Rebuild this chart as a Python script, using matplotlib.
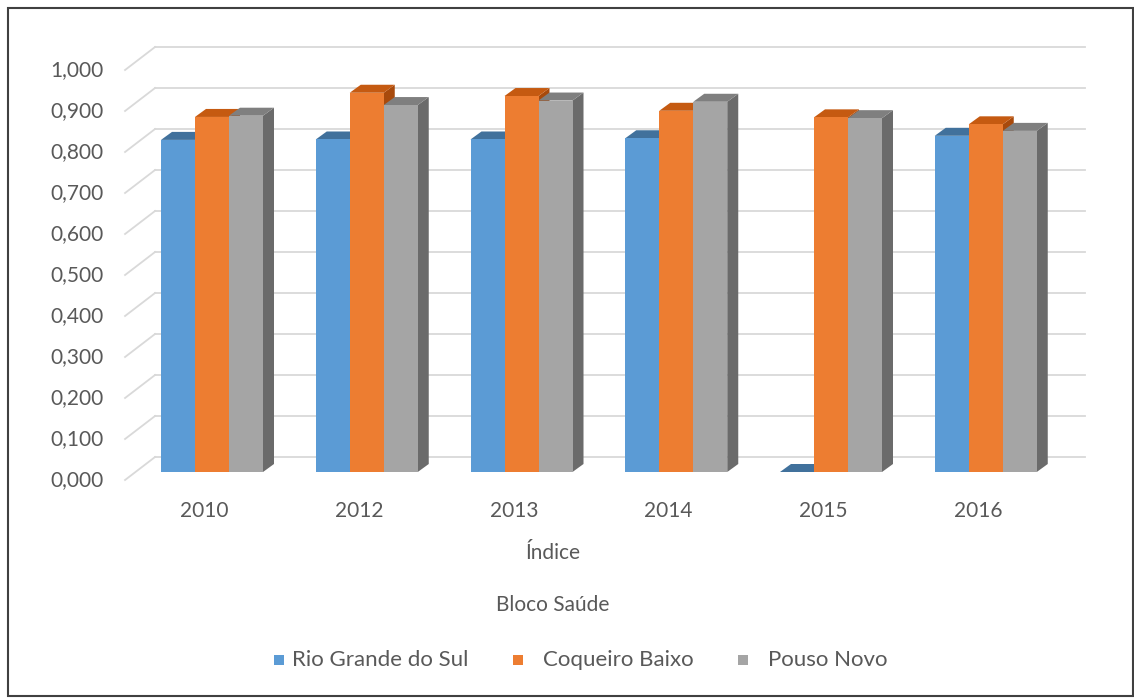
import numpy as np
import matplotlib.pyplot as plt
from matplotlib.patches import Polygon, Rectangle

# data
years = ['2010', '2012', '2013', '2014', '2015', '2016']
rio_grande = [0.810, 0.811, 0.811, 0.814, 0.000, 0.820]
coqueiro = [0.866, 0.925, 0.917, 0.881, 0.865, 0.848]
pouso_novo = [0.869, 0.895, 0.906, 0.903, 0.863, 0.832]
series_names = ['Rio Grande do Sul', 'Coqueiro Baixo', 'Pouso Novo']
yticks = np.arange(0, 1.0001, 0.1)

plt.rcParams['font.family'] = ['Lato', 'DejaVu Sans']
txt = '#595959'
fs = 15

front = ['#5B9BD5', '#ED7D31', '#A5A5A5']
top = ['#41719C', '#C55A11', '#7F7F7F']
side = ['#2E5F8E', '#A84A0C', '#6B6B6B']

W, H = 1134, 698
fig = plt.figure(figsize=(W / 100, H / 100), dpi=100)
ax = fig.add_axes([0, 0, 1, 1])

# pixel scale of the front bar plane
px_cat = 154.75   # pixels per category
px_val = 410.0    # pixels per 1.0
x0_px, y0_px = 212, 472
ax.set_xlim(-x0_px / px_cat, (W - x0_px) / px_cat)
ax.set_ylim((y0_px - H) / px_val, y0_px / px_val)
ax.axis('off')

def dxy(px_dx, px_dy):
    return px_dx / px_cat, px_dy / px_val

# depth offsets
bar_dx, bar_dy = dxy(11, 8)
wall_dx, wall_dy = dxy(20, 15)
lab_dx, lab_dy = dxy(-10, -8)

# back wall gridlines + left slanted lines
left_x = -0.368
right_x = 5.641
for v in yticks:
    ax.plot([left_x, right_x], [v + wall_dy, v + wall_dy], color='#D9D9D9', lw=1.3, zorder=1)
    ax.plot([left_x - (wall_dx - lab_dx), left_x], [v + lab_dy, v + wall_dy],
            color='#D9D9D9', lw=1.3, zorder=1)
    ax.text(left_x - (wall_dx - lab_dx) - 0.14, v + lab_dy, f'{v:.3f}'.replace('.', ','),
            ha='right', va='center', fontsize=fs, color=txt)

bw = 34 / px_cat
x = np.arange(len(years))
data = [rio_grande, coqueiro, pouso_novo]
for i in range(len(years)):
    for s in range(3):
        v = data[s][i]
        xl = x[i] + (s - 1.5) * bw
        xr = xl + bw
        z = 2 + s * 0.1
        ax.add_patch(Polygon([(xr, 0), (xr + bar_dx, bar_dy), (xr + bar_dx, v + bar_dy), (xr, v)],
                             closed=True, fc=side[s], ec='none', zorder=z))
        ax.add_patch(Polygon([(xl, v), (xl + bar_dx, v + bar_dy), (xr + bar_dx, v + bar_dy), (xr, v)],
                             closed=True, fc=top[s], ec='none', zorder=z))
        ax.bar(xl, v, width=bw, align='edge', color=front[s], zorder=z + 0.01)

for i, yr in enumerate(years):
    ax.text(x[i] - 0.05, -0.095, yr, ha='center', va='center', fontsize=fs, color=txt)

fig.text(553 / W, 1 - 553 / H, 'Índice', ha='center', va='center', fontsize=fs, color=txt)
fig.text(553 / W, 1 - 605 / H, 'Bloco Saúde', ha='center', va='center', fontsize=fs, color=txt)

# legend
leg_sq = [279, 518, 743]
leg_tx = [292, 543, 768]
for s in range(3):
    fig.patches.append(Rectangle(((leg_sq[s] - 5) / W, 1 - 665 / H), 10 / W, 10 / H,
                                 transform=fig.transFigure, fc=front[s], ec='none'))
    fig.text(leg_tx[s] / W, 1 - 660 / H, series_names[s], ha='left', va='center',
             fontsize=fs + 1, color=txt)

# outer border
fig.patches.append(Rectangle((8 / W, 2 / H), (W - 9) / W, (H - 10) / H, transform=fig.transFigure,
                             fill=False, ec='#404040', lw=1.5))

fig.savefig('out.png', dpi=100)
